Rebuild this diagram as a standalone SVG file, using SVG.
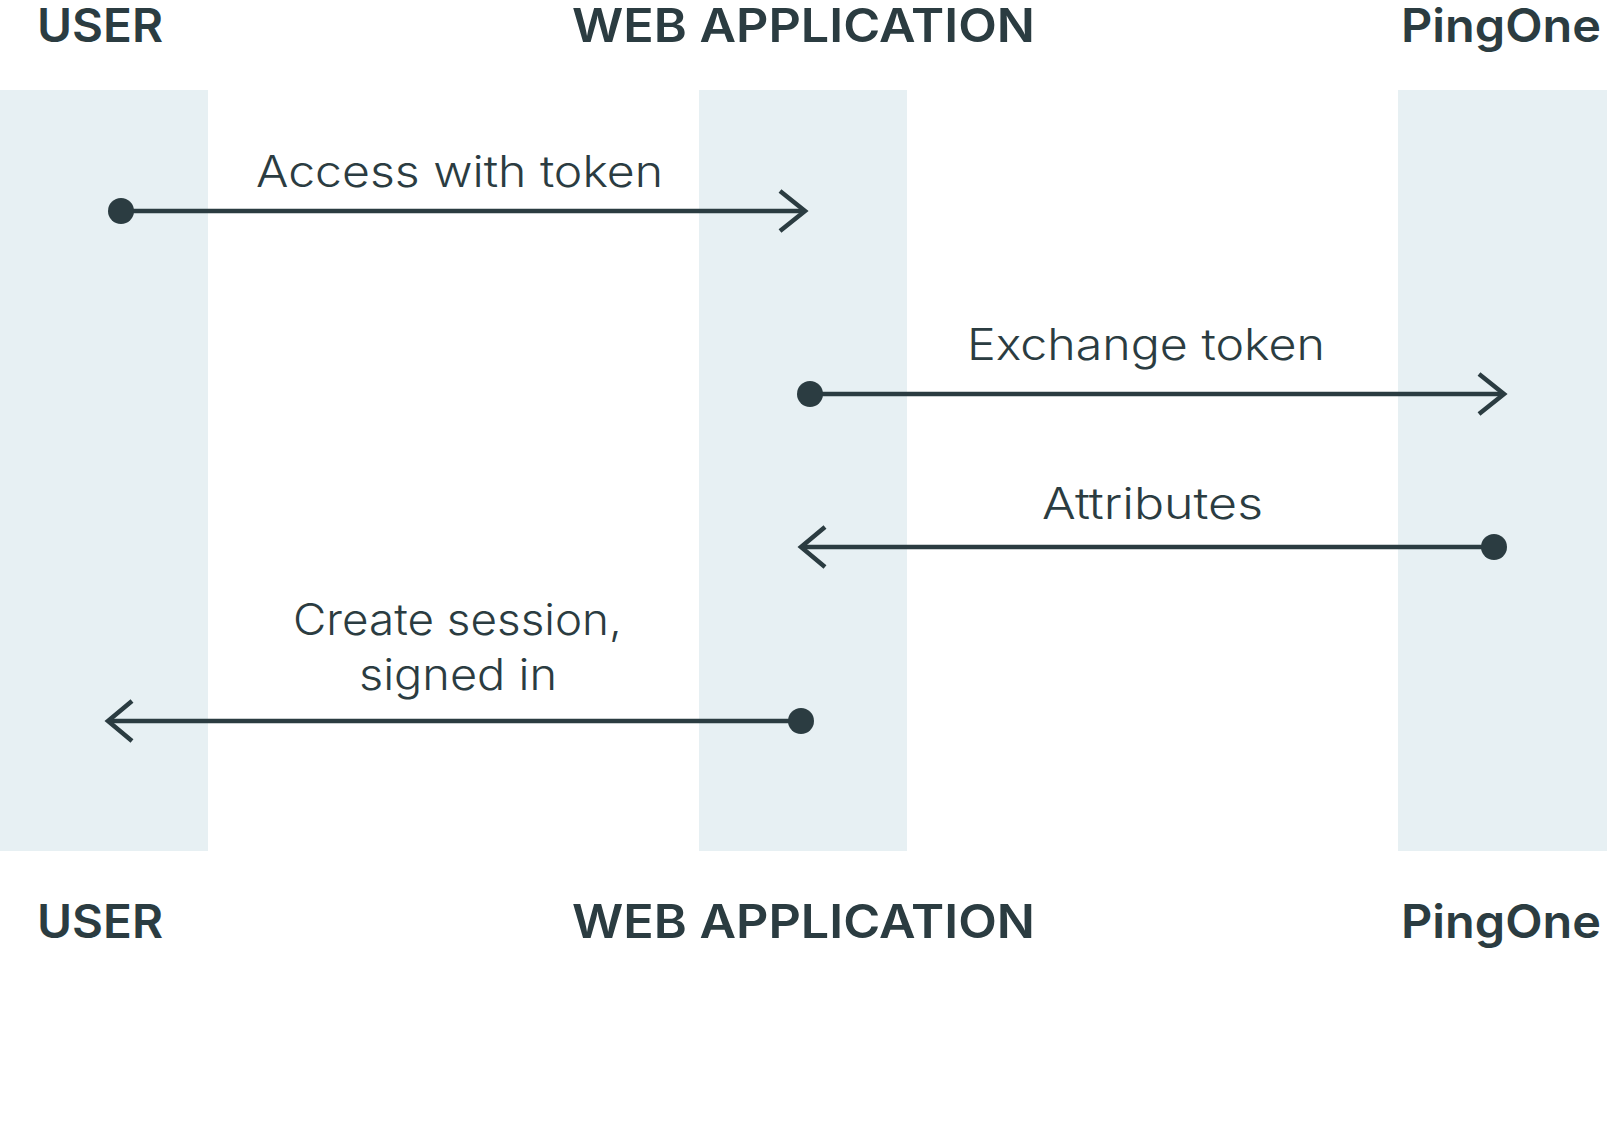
<svg xmlns="http://www.w3.org/2000/svg" width="1607" height="1129" viewBox="0 0 1607 1129">
<style>
.band{fill:#e7f0f3}
.hdr{font-family:Inter,"Liberation Sans","DejaVu Sans",sans-serif;font-weight:600;font-size:46px;fill:#2b3c41}
.lbl{font-family:Inter,"Liberation Sans","DejaVu Sans",sans-serif;font-weight:300;font-size:43px;fill:#2b3c41}
.ln{stroke:#2b3c41;stroke-width:4.5;fill:none}
.hd{stroke:#2b3c41;stroke-width:4.5;fill:none;stroke-linejoin:miter}
.dot{fill:#2b3c41}
</style>
<rect width="1607" height="1129" fill="#ffffff"/>
<g id="user">
<rect class="band" x="0" y="90" width="208" height="761"/>
<text class="hdr" x="37" y="42" textLength="126" lengthAdjust="spacingAndGlyphs">USER</text>
<text class="hdr" x="37" y="938" textLength="126" lengthAdjust="spacingAndGlyphs">USER</text>
</g>
<g id="webapp">
<rect class="band" x="699" y="90" width="208" height="761"/>
<text class="hdr" x="572" y="42" textLength="463" lengthAdjust="spacingAndGlyphs">WEB APPLICATION</text>
<text class="hdr" x="572" y="938" textLength="463" lengthAdjust="spacingAndGlyphs">WEB APPLICATION</text>
</g>
<g id="pingone">
<rect class="band" x="1398" y="90" width="209" height="761"/>
<text class="hdr" x="1401" y="42" textLength="200" lengthAdjust="spacingAndGlyphs">PingOne</text>
<text class="hdr" x="1401" y="938" textLength="200" lengthAdjust="spacingAndGlyphs">PingOne</text>
</g>
<g id="connectors">
<g id="c1">
<line class="ln" x1="121" y1="211" x2="803" y2="211"/>
<circle class="dot" cx="121" cy="211" r="13"/>
<polyline class="hd" points="780,191 805,211 780,231"/>
<text class="lbl" x="256" y="187" textLength="407" lengthAdjust="spacingAndGlyphs">Access with token</text>
</g>
<g id="c2">
<line class="ln" x1="810" y1="394" x2="1502" y2="394"/>
<circle class="dot" cx="810" cy="394" r="13"/>
<polyline class="hd" points="1479,374 1504,394 1479,414"/>
<text class="lbl" x="967" y="360" textLength="358" lengthAdjust="spacingAndGlyphs">Exchange token</text>
</g>
<g id="c3">
<line class="ln" x1="1494" y1="547" x2="803" y2="547"/>
<circle class="dot" cx="1494" cy="547" r="13"/>
<polyline class="hd" points="825,527 801,547 825,567"/>
<text class="lbl" x="1042" y="519" textLength="221" lengthAdjust="spacingAndGlyphs">Attributes</text>
</g>
<g id="c4">
<line class="ln" x1="801" y1="721" x2="110" y2="721"/>
<circle class="dot" cx="801" cy="721" r="13"/>
<polyline class="hd" points="132,701 108,721 132,741"/>
<text class="lbl" x="293" y="635" textLength="329" lengthAdjust="spacingAndGlyphs">Create session,</text>
<text class="lbl" x="359" y="690" textLength="198" lengthAdjust="spacingAndGlyphs">signed in</text>
</g>
</g>
</svg>
